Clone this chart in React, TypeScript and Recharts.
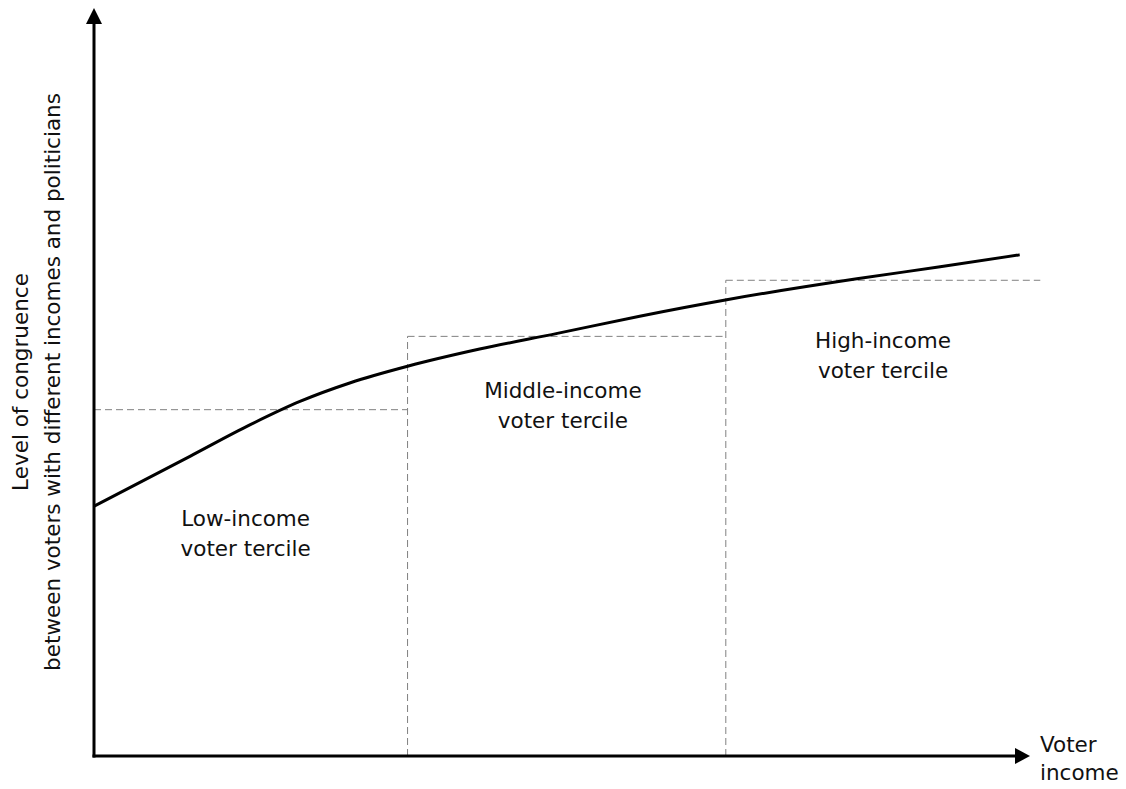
import React from "react";
import { LineChart, Line, XAxis, YAxis, ReferenceLine, ReferenceDot } from "recharts";

// Curve: level of congruence vs voter income
const curveX = [0, 10.3, 16.7, 22.0, 27.4, 33.5, 41.2, 49.5, 58.3, 67.6, 81.5, 90.4, 98.9];
const curveY = [33.4, 40.1, 44.3, 47.4, 49.9, 52.1, 54.4, 56.5, 58.8, 61.0, 63.8, 65.4, 67.0];

// Terciles: boundaries on the income axis and mean congruence level
const tercileBounds = [0, 33.5, 67.5, 101.1];
const tercileLevels = [46.3, 56.1, 63.6];
const tercileLabels = [
  ["Low-income", "voter tercile"],
  ["Middle-income", "voter tercile"],
  ["High-income", "voter tercile"],
];
const labelX = [16.2, 50.1, 84.3];
const labelY = [31.7, 48.9, 55.6];

const yAxisTitle = ["Level of congruence", "between voters with different incomes and politicians"];
const xAxisTitle = ["Voter", "income"];

const data = curveX.map((x, i) => ({ x, y: curveY[i] }));

const FONT = "'DejaVu Sans', sans-serif";
const FS = 21.5;
const TXT = "#111";
const DASH = "#808080";

export default function App() {
  const dashed: React.ReactNode[] = [];
  tercileLevels.forEach((lvl, i) => {
    dashed.push(
      <ReferenceLine
        key={"h" + i}
        segment={[{ x: tercileBounds[i], y: lvl }, { x: tercileBounds[i + 1], y: lvl }]}
        stroke={DASH}
        strokeWidth={1}
        strokeDasharray="7 4"
        ifOverflow="visible"
      />
    );
    if (i > 0) {
      dashed.push(
        <ReferenceLine
          key={"v" + i}
          segment={[{ x: tercileBounds[i], y: 0 }, { x: tercileBounds[i], y: lvl }]}
          stroke={DASH}
          strokeWidth={1}
          strokeDasharray="7 4"
          ifOverflow="visible"
        />
      );
    }
  });

  return (
    <div style={{ position: "absolute", left: 0, top: 0, width: 1126, height: 789, background: "#fff" }}>
      <LineChart width={1126} height={789} data={data} margin={{ top: 8, right: 96, bottom: 33, left: 94 }}>
        <XAxis type="number" dataKey="x" domain={[0, 100]} hide />
        <YAxis type="number" domain={[0, 100]} hide />
        {dashed}
        {/* axes */}
        <ReferenceLine
          segment={[{ x: 0, y: 0 }, { x: 99, y: 0 }]}
          stroke="#000"
          strokeWidth={3}
          strokeLinecap="square"
          ifOverflow="visible"
        />
        <ReferenceLine
          segment={[{ x: 0, y: 0 }, { x: 0, y: 99 }]}
          stroke="#000"
          strokeWidth={3}
          strokeLinecap="square"
          ifOverflow="visible"
        />
        <ReferenceDot
          x={0}
          y={100}
          ifOverflow="visible"
          shape={(p: any) => (
            <path d={`M${p.cx},${p.cy} L${p.cx - 8},${p.cy + 16} L${p.cx + 8},${p.cy + 16} Z`} fill="#000" />
          )}
        />
        <ReferenceDot
          x={100}
          y={0}
          ifOverflow="visible"
          shape={(p: any) => (
            <path d={`M${p.cx},${p.cy} L${p.cx - 15},${p.cy - 8} L${p.cx - 15},${p.cy + 8} Z`} fill="#000" />
          )}
        />
        {/* axis titles */}
        <ReferenceDot
          x={100}
          y={0}
          ifOverflow="visible"
          shape={(p: any) => (
            <g fontFamily={FONT} fontSize={FS} fill={TXT}>
              <text x={p.cx + 10} y={p.cy - 4}>{xAxisTitle[0]}</text>
              <text x={p.cx + 10} y={p.cy + 24}>{xAxisTitle[1]}</text>
            </g>
          )}
        />
        <ReferenceDot
          x={0}
          y={50}
          ifOverflow="visible"
          shape={(p: any) => (
            <g fontFamily={FONT} fontSize={FS} fill={TXT}>
              <text
                x={p.cx - 74}
                y={p.cy}
                textAnchor="middle"
                dominantBaseline="central"
                transform={`rotate(-90 ${p.cx - 74} ${p.cy})`}
              >
                {yAxisTitle[0]}
              </text>
              <text
                x={p.cx - 42}
                y={p.cy}
                textAnchor="middle"
                dominantBaseline="central"
                transform={`rotate(-90 ${p.cx - 42} ${p.cy})`}
              >
                {yAxisTitle[1]}
              </text>
            </g>
          )}
        />
        {/* tercile labels */}
        {tercileLabels.map((lines, i) => (
          <ReferenceDot
            key={"l" + i}
            x={labelX[i]}
            y={labelY[i]}
            ifOverflow="visible"
            shape={(p: any) => (
              <g fontFamily={FONT} fontSize={FS} fill={TXT} textAnchor="middle">
                <text x={p.cx} y={p.cy} dominantBaseline="central">{lines[0]}</text>
                <text x={p.cx} y={p.cy + 30} dominantBaseline="central">{lines[1]}</text>
              </g>
            )}
          />
        ))}
        <Line
          dataKey="y"
          type="monotone"
          stroke="#000"
          strokeWidth={3}
          dot={false}
          activeDot={false}
          isAnimationActive={false}
        />
      </LineChart>
    </div>
  );
}
